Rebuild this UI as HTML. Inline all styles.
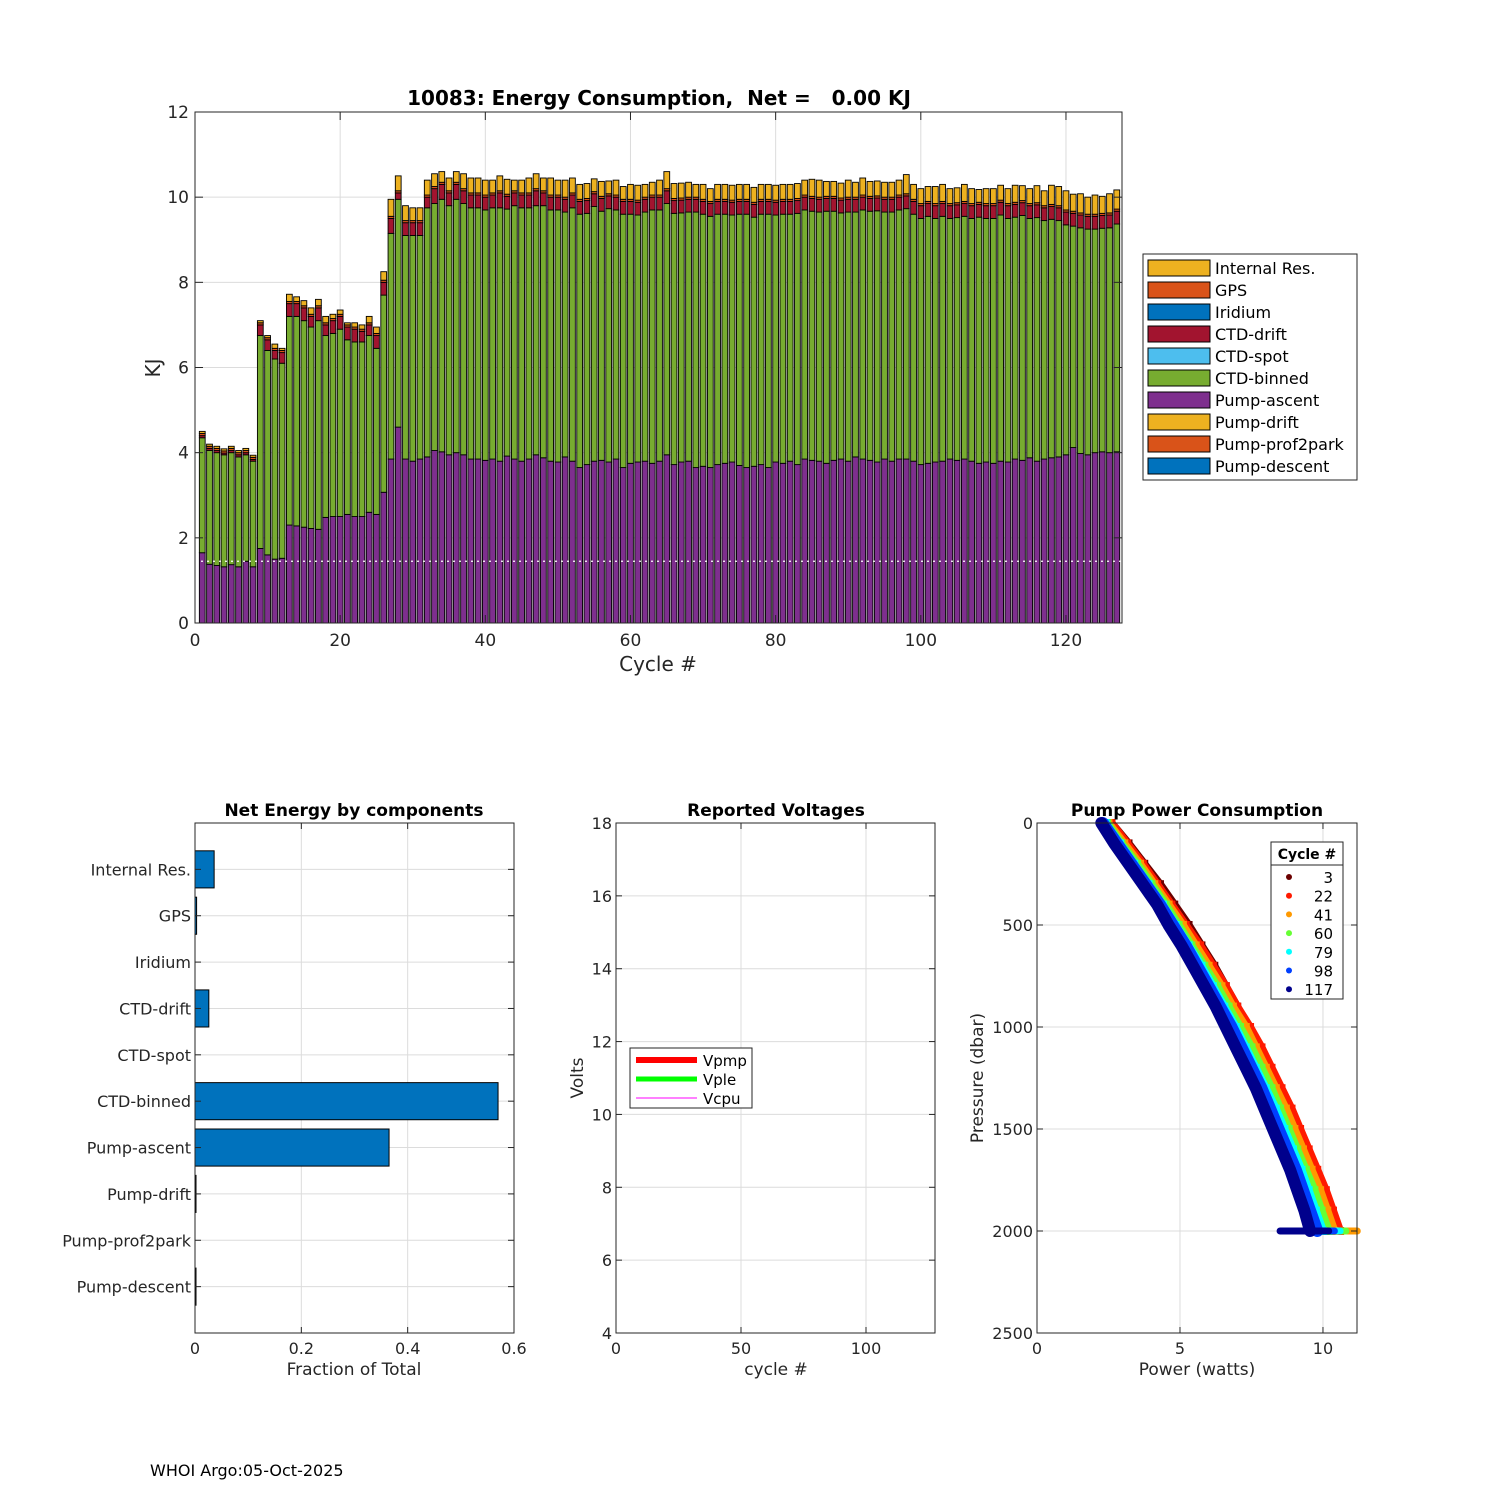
<!DOCTYPE html>
<html><head><meta charset="utf-8"><style>
body{margin:0;background:#fff;}
svg{display:block;font-family:"DejaVu Sans","Liberation Sans",sans-serif;}
text{white-space:pre;}
</style></head><body>
<svg id="fig" width="1500" height="1500" xmlns="http://www.w3.org/2000/svg"></svg>
<script>
// ---------- Top chart data ----------
const cycles = Array.from({length:127},(_,i)=>i+1);
const pumpAscent=[1.65,1.38,1.35,1.32,1.37,1.32,1.45,1.32,1.75,1.6,
1.5,1.52,2.3,2.28,2.25,2.22,2.2,2.48,2.5,2.5,
2.55,2.5,2.5,2.6,2.55,3.07,3.85,4.6,3.85,3.8,
3.85,3.9,4.05,4.02,3.95,4.0,3.95,3.85,3.85,3.82,
3.85,3.8,3.92,3.85,3.8,3.85,3.95,3.88,3.8,3.78,
3.9,3.8,3.65,3.72,3.8,3.82,3.78,3.85,3.65,3.75,
3.78,3.8,3.75,3.8,3.95,3.72,3.78,3.8,3.65,3.68,
3.65,3.72,3.75,3.78,3.7,3.65,3.68,3.72,3.65,3.78,
3.75,3.8,3.72,3.85,3.82,3.8,3.75,3.82,3.85,3.8,
3.9,3.85,3.82,3.78,3.85,3.8,3.85,3.85,3.8,3.72,
3.75,3.78,3.8,3.85,3.82,3.85,3.8,3.75,3.78,3.75,
3.8,3.78,3.85,3.82,3.88,3.8,3.85,3.88,3.9,3.95,
4.12,3.98,3.95,4.0,4.02,4.0,4.02];
const ctdBinned=[2.7,2.67,2.65,2.63,2.63,2.58,2.5,2.48,5.0,4.8,
4.7,4.58,4.9,4.92,4.85,4.73,4.9,4.27,4.3,4.4,
4.1,4.1,4.1,4.15,3.9,4.63,5.3,5.35,5.25,5.3,
5.25,5.85,5.8,5.93,5.85,5.95,5.9,5.9,5.9,5.88,
5.9,5.95,5.8,5.95,5.95,5.9,5.85,5.92,5.9,5.92,
5.75,5.95,5.95,5.9,5.98,5.85,5.95,5.85,5.95,5.85,
5.8,5.85,5.95,5.9,5.9,5.9,5.85,5.85,6.0,5.92,
5.9,5.88,5.85,5.8,5.9,5.95,5.85,5.88,5.95,5.8,
5.85,5.8,5.9,5.85,5.85,5.85,5.92,5.85,5.78,5.85,
5.75,5.85,5.85,5.9,5.8,5.85,5.85,5.88,5.8,5.78,
5.8,5.72,5.75,5.65,5.7,5.7,5.7,5.78,5.72,5.75,
5.78,5.72,5.68,5.75,5.62,5.72,5.6,5.6,5.55,5.4,
5.2,5.3,5.3,5.25,5.25,5.28,5.35];
const ctdDrift=[0.05,0.05,0.05,0.04,0.05,0.05,0.05,0.04,0.25,0.25,
0.2,0.25,0.3,0.3,0.3,0.25,0.3,0.25,0.3,0.3,
0.3,0.3,0.25,0.25,0.3,0.3,0.35,0.15,0.3,0.3,
0.3,0.25,0.35,0.35,0.3,0.35,0.3,0.3,0.3,0.3,
0.3,0.35,0.3,0.3,0.3,0.3,0.35,0.3,0.3,0.3,
0.3,0.3,0.3,0.3,0.3,0.3,0.3,0.3,0.3,0.3,
0.3,0.3,0.3,0.3,0.3,0.3,0.3,0.3,0.3,0.3,
0.3,0.3,0.3,0.3,0.3,0.3,0.3,0.3,0.3,0.3,
0.3,0.3,0.3,0.3,0.3,0.3,0.3,0.3,0.3,0.3,
0.3,0.3,0.3,0.3,0.3,0.3,0.3,0.3,0.3,0.3,
0.3,0.3,0.3,0.3,0.3,0.3,0.3,0.3,0.3,0.3,
0.3,0.3,0.3,0.3,0.3,0.3,0.3,0.3,0.3,0.3,
0.3,0.3,0.3,0.3,0.3,0.3,0.3];
const gps=Array(127).fill(0.05);
const internalRes=[0.05,0.05,0.05,0.05,0.05,0.05,0.05,0.05,0.05,0.05,
0.1,0.05,0.17,0.11,0.12,0.15,0.15,0.15,0.1,0.1,
0.05,0.1,0.1,0.15,0.15,0.2,0.4,0.35,0.35,0.3,
0.3,0.35,0.3,0.25,0.3,0.25,0.35,0.35,0.35,0.35,
0.3,0.35,0.35,0.25,0.3,0.35,0.35,0.3,0.4,0.35,
0.4,0.35,0.35,0.35,0.3,0.35,0.3,0.35,0.3,0.35,
0.35,0.3,0.3,0.35,0.4,0.35,0.35,0.35,0.3,0.35,
0.3,0.35,0.35,0.35,0.35,0.35,0.35,0.35,0.35,0.35,
0.35,0.35,0.35,0.35,0.4,0.4,0.35,0.35,0.35,0.4,
0.35,0.4,0.35,0.35,0.35,0.35,0.35,0.45,0.35,0.35,
0.35,0.4,0.4,0.35,0.35,0.4,0.35,0.3,0.35,0.35,
0.35,0.35,0.4,0.35,0.35,0.4,0.35,0.45,0.45,0.45,
0.4,0.45,0.4,0.45,0.4,0.45,0.45];
const yTicks=[0,2,4,6,8,10,12];
const xTicks=[0,20,40,60,80,100,120];
const legendLabels=["Internal Res.","GPS","Iridium","CTD-drift","CTD-spot","CTD-binned","Pump-ascent","Pump-drift","Pump-prof2park","Pump-descent"];
const legendColors=["#EDB120","#D95319","#0072BD","#A2142F","#4DBEEE","#77AC30","#7E2F8E","#EDB120","#D95319","#0072BD"];
// ---------- Component bar chart ----------
const compLabels=["Internal Res.","GPS","Iridium","CTD-drift","CTD-spot","CTD-binned","Pump-ascent","Pump-drift","Pump-prof2park","Pump-descent"];
const compValues=[0.036,0.003,0,0.026,0,0.57,0.365,0.001,0,0.001];
const compTicks=[0,0.2,0.4,0.6];
// ---------- Voltages ----------
const voltXTicks=[0,50,100];
const voltYTicks=[4,6,8,10,12,14,16,18];
// ---------- Pump power ----------
const pumpCycles=[3,22,41,60,79,98,117];
const pumpColors=["#6b0000","#ff1a00","#ff9900","#66ff33","#00ffff","#0040ff","#00008c"];
const pressLevels=[0,100,200,300,400,500,600,700,800,900,1000,1100,1200,1300,1400,1500,1600,1700,1800,1900,2000];
const power3=[2.6,3.2,3.75,4.3,4.8,5.3,5.75,6.2,6.6,7.0,7.4,7.8,8.15,8.5,8.8,9.1,9.4,9.7,10.0,10.3,10.5];
const power22=[2.6,3.15,3.7,4.2,4.7,5.2,5.7,6.15,6.6,7.0,7.45,7.85,8.2,8.55,8.9,9.2,9.5,9.8,10.1,10.35,10.6];
const power41=[2.5,3.05,3.6,4.1,4.6,5.1,5.55,6.0,6.45,6.85,7.3,7.65,8.0,8.35,8.7,9.0,9.3,9.6,9.9,10.15,10.4];
const power60=[2.45,2.95,3.5,4.0,4.5,4.95,5.4,5.85,6.3,6.7,7.1,7.5,7.85,8.2,8.5,8.8,9.1,9.4,9.7,9.95,10.2];
const power79=[2.4,2.9,3.4,3.9,4.4,4.85,5.3,5.75,6.15,6.55,6.95,7.3,7.65,8.0,8.35,8.65,8.95,9.25,9.5,9.75,10.0];
const power98=[2.3,2.8,3.3,3.8,4.3,4.75,5.2,5.6,6.0,6.4,6.8,7.15,7.5,7.85,8.15,8.45,8.75,9.05,9.3,9.55,9.8];
const power117=[2.25,2.7,3.2,3.7,4.2,4.6,5.05,5.45,5.85,6.25,6.6,6.95,7.3,7.65,7.95,8.25,8.55,8.85,9.1,9.35,9.55];
const powerSeries=[power3,power22,power41,power60,power79,power98,power117];
const bottomMin=[9.3,9.2,9.0,9.0,8.9,8.7,8.5];
const bottomMax=[10.6,10.9,11.2,10.8,10.6,10.4,10.2];
const powXTicks=[0,5,10];
const powYTicks=[0,500,1000,1500,2000,2500];

const NS="http://www.w3.org/2000/svg";
const fig=document.getElementById('fig');
function mk(tag,attrs,parent,text){const e=document.createElementNS(NS,tag);for(const k in attrs)e.setAttribute(k,attrs[k]);if(text!==undefined)e.textContent=text;(parent||fig).appendChild(e);return e;}

// ===== TOP CHART =====
const T={l:195,r:1122,t:112,b:623,x0:0,x1:127.72,y0:0,y1:12};
const tx=v=>T.l+(v-T.x0)/(T.x1-T.x0)*(T.r-T.l);
const ty=v=>T.b-(v-T.y0)/(T.y1-T.y0)*(T.b-T.t);
const gTop=mk('g',{});


mk('rect',{x:T.l,y:T.t,width:T.r-T.l,height:T.b-T.t,fill:'#fff'},gTop);
yTicks.forEach(v=>{mk('line',{x1:T.l,x2:T.r,y1:ty(v),y2:ty(v),stroke:'#dcdcdc','stroke-width':1},gTop);});
xTicks.forEach(v=>{mk('line',{x1:tx(v),x2:tx(v),y1:T.t,y2:T.b,stroke:'#dcdcdc','stroke-width':1},gTop);});
const bw=0.8;
cycles.forEach((c,i)=>{
  const segs=[[pumpAscent[i],'#7E2F8E'],[ctdBinned[i],'#77AC30'],[ctdDrift[i],'#A2142F'],[gps[i],'#D95319'],[internalRes[i],'#EDB120']];
  let base=0;
  segs.forEach(([v,col])=>{
    const r=mk('rect',{x:tx(c-bw/2),y:ty(base+v),width:tx(c+bw/2)-tx(c-bw/2),height:ty(base)-ty(base+v),fill:col,stroke:'#000','stroke-width':0.9},gTop);
    
    
    base+=v;
  });
});
mk('line',{x1:T.l,x2:T.r,y1:ty(1.45),y2:ty(1.45),stroke:'#fff','stroke-width':1.2,'stroke-dasharray':'2 4'},gTop);
mk('rect',{x:T.l,y:T.t,width:T.r-T.l,height:T.b-T.t,fill:'none',stroke:'#262626','stroke-width':1},gTop);
yTicks.forEach(v=>{
  mk('line',{x1:T.l,x2:T.l+8,y1:ty(v),y2:ty(v),stroke:'#262626'},gTop);
  mk('line',{x1:T.r,x2:T.r-8,y1:ty(v),y2:ty(v),stroke:'#262626'},gTop);
  const t=mk('text',{x:T.l-6,y:ty(v)+6,'text-anchor':'end','font-size':17,fill:'#262626'},gTop,String(v));
  
});
xTicks.forEach(v=>{
  mk('line',{x1:tx(v),x2:tx(v),y1:T.b,y2:T.b-8,stroke:'#262626'},gTop);
  mk('line',{x1:tx(v),x2:tx(v),y1:T.t,y2:T.t+8,stroke:'#262626'},gTop);
  const t=mk('text',{x:tx(v),y:T.b+23,'text-anchor':'middle','font-size':17,fill:'#262626'},gTop,String(v));
  
});
let e;
e=mk('text',{x:659,y:105,'text-anchor':'middle','font-size':20,'font-weight':'bold',fill:'#000','xml:space':'preserve'},gTop,'10083: Energy Consumption,  Net =   0.00 KJ');

e=mk('text',{x:658,y:671,'text-anchor':'middle','font-size':20,fill:'#262626'},gTop,'Cycle #');

e=mk('text',{x:0,y:0,'text-anchor':'middle','font-size':20,fill:'#262626',transform:'translate(160,368) rotate(-90)'},gTop,'KJ');

// legend
const lg=mk('g',{});

mk('rect',{x:1143,y:254,width:214,height:226,fill:'#fff',stroke:'#262626','stroke-width':1},lg);
legendLabels.forEach((lab,i)=>{
  const y=260+i*22;
  const s=mk('rect',{x:1148,y:y,width:62,height:16,fill:legendColors[i],stroke:'#000','stroke-width':1},lg);
  
  const t=mk('text',{x:1215,y:y+14,'font-size':16,fill:'#000'},lg,lab);
  
});

// ===== COMPONENTS CHART =====
const C={l:195,r:514,t:823,b:1333,x0:0,x1:0.6};
const cx=v=>C.l+(v-C.x0)/(C.x1-C.x0)*(C.r-C.l);
const step=(C.b-C.t)/11;
const cy=i=>C.t+step*(i+1);
const gC=mk('g',{});

compTicks.forEach(v=>mk('line',{x1:cx(v),x2:cx(v),y1:C.t,y2:C.b,stroke:'#dcdcdc'},gC));
compLabels.forEach((l,i)=>mk('line',{x1:C.l,x2:C.r,y1:cy(i),y2:cy(i),stroke:'#dcdcdc'},gC));
compValues.forEach((v,i)=>{
  if(v<=0)return;
  const r=mk('rect',{x:cx(0),y:cy(i)-step*0.4,width:Math.max(cx(v)-cx(0),1),height:step*0.8,fill:'#0072BD',stroke:'#000','stroke-width':1},gC);
  
  
});
mk('rect',{x:C.l,y:C.t,width:C.r-C.l,height:C.b-C.t,fill:'none',stroke:'#262626'},gC);
compLabels.forEach((l,i)=>{
  mk('line',{x1:C.l,x2:C.l+6,y1:cy(i),y2:cy(i),stroke:'#262626'},gC);
  mk('line',{x1:C.r,x2:C.r-6,y1:cy(i),y2:cy(i),stroke:'#262626'},gC);
  const t=mk('text',{x:C.l-4,y:cy(i)+6,'text-anchor':'end','font-size':16,fill:'#262626'},gC,l);
  
});
compTicks.forEach(v=>{
  mk('line',{x1:cx(v),x2:cx(v),y1:C.b,y2:C.b-6,stroke:'#262626'},gC);
  mk('line',{x1:cx(v),x2:cx(v),y1:C.t,y2:C.t+6,stroke:'#262626'},gC);
  const t=mk('text',{x:cx(v),y:C.b+21,'text-anchor':'middle','font-size':16,fill:'#262626'},gC,String(v));
  
});
e=mk('text',{x:354,y:816,'text-anchor':'middle','font-size':17,'font-weight':'bold'},gC,'Net Energy by components');

e=mk('text',{x:354,y:1375,'text-anchor':'middle','font-size':17,fill:'#262626'},gC,'Fraction of Total');


// ===== VOLTAGES =====
const V={l:616,r:935,t:823,b:1333,x0:0,x1:127.6,y0:4,y1:18};
const vx=v=>V.l+(v-V.x0)/(V.x1-V.x0)*(V.r-V.l);
const vy=v=>V.b-(v-V.y0)/(V.y1-V.y0)*(V.b-V.t);
const gV=mk('g',{});

voltXTicks.forEach(v=>mk('line',{x1:vx(v),x2:vx(v),y1:V.t,y2:V.b,stroke:'#dcdcdc'},gV));
voltYTicks.forEach(v=>mk('line',{x1:V.l,x2:V.r,y1:vy(v),y2:vy(v),stroke:'#dcdcdc'},gV));
mk('rect',{x:V.l,y:V.t,width:V.r-V.l,height:V.b-V.t,fill:'none',stroke:'#262626'},gV);
voltYTicks.forEach(v=>{
  mk('line',{x1:V.l,x2:V.l+6,y1:vy(v),y2:vy(v),stroke:'#262626'},gV);
  mk('line',{x1:V.r,x2:V.r-6,y1:vy(v),y2:vy(v),stroke:'#262626'},gV);
  const t=mk('text',{x:V.l-4,y:vy(v)+6,'text-anchor':'end','font-size':16,fill:'#262626'},gV,String(v));
  
});
voltXTicks.forEach(v=>{
  mk('line',{x1:vx(v),x2:vx(v),y1:V.b,y2:V.b-6,stroke:'#262626'},gV);
  mk('line',{x1:vx(v),x2:vx(v),y1:V.t,y2:V.t+6,stroke:'#262626'},gV);
  const t=mk('text',{x:vx(v),y:V.b+21,'text-anchor':'middle','font-size':16,fill:'#262626'},gV,String(v));
  
});
e=mk('text',{x:776,y:816,'text-anchor':'middle','font-size':17,'font-weight':'bold'},gV,'Reported Voltages');

e=mk('text',{x:776,y:1375,'text-anchor':'middle','font-size':17,fill:'#262626'},gV,'cycle #');

e=mk('text',{x:0,y:0,'text-anchor':'middle','font-size':17,fill:'#262626',transform:'translate(583,1078) rotate(-90)'},gV,'Volts');

const vl=mk('g',{});

mk('rect',{x:630,y:1048,width:122,height:60,fill:'#fff',stroke:'#262626'},vl);
[['Vpmp','#ff0000',6],['Vple','#00ff00',5],['Vcpu','#ff00ff',1]].forEach((d,i)=>{
  const y=1060+i*19;
  mk('line',{x1:636,x2:697,y1:y,y2:y,stroke:d[1],'stroke-width':d[2]},vl);
  const t=mk('text',{x:703,y:y+6,'font-size':15},vl,d[0]);
  
});

// ===== PUMP POWER =====
const P={l:1037,r:1357,t:823,b:1333,x0:0,x1:11.19,y0:0,y1:2500};
const px=v=>P.l+(v-P.x0)/(P.x1-P.x0)*(P.r-P.l);
const py=v=>P.t+(v-P.y0)/(P.y1-P.y0)*(P.b-P.t);
const gP=mk('g',{});

powXTicks.forEach(v=>mk('line',{x1:px(v),x2:px(v),y1:P.t,y2:P.b,stroke:'#dcdcdc'},gP));
powYTicks.forEach(v=>mk('line',{x1:P.l,x2:P.r,y1:py(v),y2:py(v),stroke:'#dcdcdc'},gP));
powerSeries.forEach((ser,k)=>{
  const pts=ser.map((w,j)=>px(w).toFixed(1)+','+py(pressLevels[j]).toFixed(1)).join(' ');
  const pl=mk('polyline',{points:pts,fill:'none',stroke:pumpColors[k],'stroke-width':k>=5?12:8,'stroke-linecap':'round','stroke-linejoin':'round'},gP);
  
  
  ser.forEach((w,j)=>{
    const m=mk('rect',{x:px(w)-4,y:py(pressLevels[j])-4,width:8,height:8,fill:pumpColors[k]},gP);
    
  });
  const bl=mk('line',{x1:px(bottomMin[k]),x2:px(bottomMax[k]),y1:py(2000),y2:py(2000),stroke:pumpColors[k],'stroke-width':7,'stroke-linecap':'round'},gP);
  
  
});
mk('rect',{x:P.l,y:P.t,width:P.r-P.l,height:P.b-P.t,fill:'none',stroke:'#262626'},gP);
powYTicks.forEach(v=>{
  mk('line',{x1:P.l,x2:P.l+6,y1:py(v),y2:py(v),stroke:'#262626'},gP);
  mk('line',{x1:P.r,x2:P.r-6,y1:py(v),y2:py(v),stroke:'#262626'},gP);
  const t=mk('text',{x:P.l-4,y:py(v)+6,'text-anchor':'end','font-size':16,fill:'#262626'},gP,String(v));
  
});
powXTicks.forEach(v=>{
  mk('line',{x1:px(v),x2:px(v),y1:P.b,y2:P.b-6,stroke:'#262626'},gP);
  mk('line',{x1:px(v),x2:px(v),y1:P.t,y2:P.t+6,stroke:'#262626'},gP);
  const t=mk('text',{x:px(v),y:P.b+21,'text-anchor':'middle','font-size':16,fill:'#262626'},gP,String(v));
  
});
e=mk('text',{x:1197,y:816,'text-anchor':'middle','font-size':17,'font-weight':'bold'},gP,'Pump Power Consumption');

e=mk('text',{x:1197,y:1375,'text-anchor':'middle','font-size':17,fill:'#262626'},gP,'Power (watts)');

e=mk('text',{x:0,y:0,'text-anchor':'middle','font-size':17,fill:'#262626',transform:'translate(983,1078) rotate(-90)'},gP,'Pressure (dbar)');

const pl2=mk('g',{});

mk('rect',{x:1271,y:842,width:72,height:157,fill:'#fff',stroke:'#262626'},pl2);
mk('line',{x1:1271,x2:1343,y1:865,y2:865,stroke:'#262626'},pl2);
e=mk('text',{x:1307,y:859,'text-anchor':'middle','font-size':14,'font-weight':'bold'},pl2,'Cycle #');

pumpCycles.forEach((c,i)=>{
  const y=877+i*18.7;
  mk('circle',{cx:1289,cy:y,r:3,fill:pumpColors[i]},pl2);
  const t=mk('text',{x:1333,y:y+6,'text-anchor':'end','font-size':15},pl2,String(c));
  
});

e=mk('text',{x:150,y:1476,'font-size':16,fill:'#000'},null,'WHOI Argo:05-Oct-2025');

</script>
</body></html>
